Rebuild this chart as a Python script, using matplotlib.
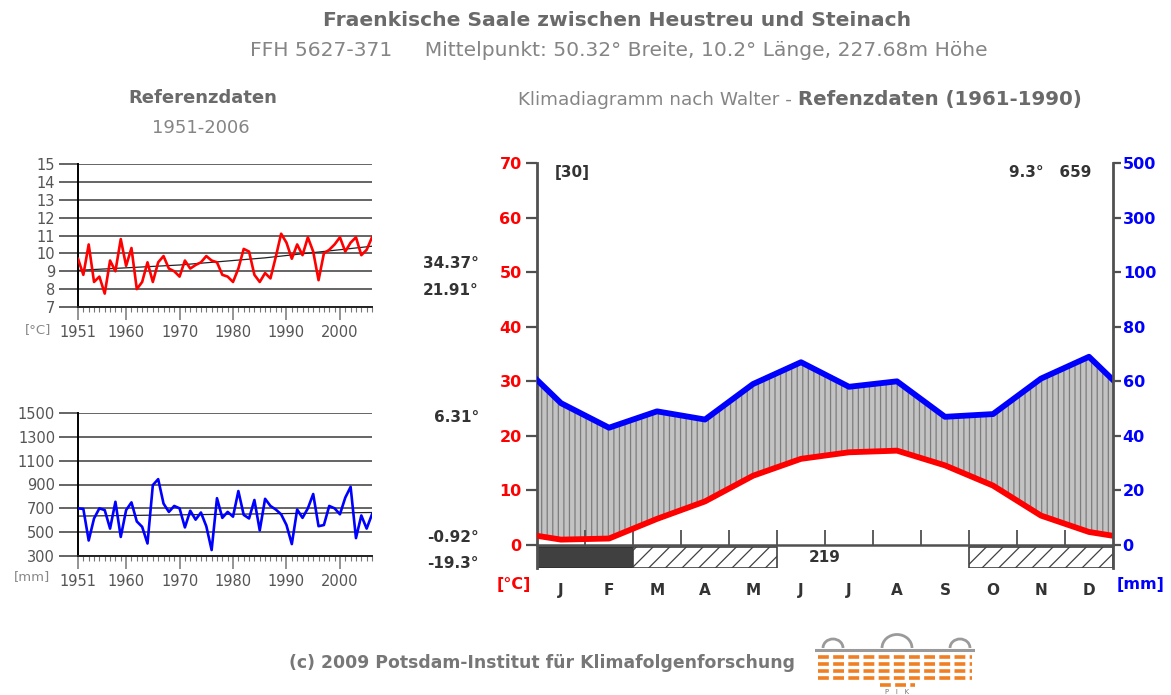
import matplotlib.pyplot as plt
import matplotlib.patches as mpatches
import numpy as np

# --- Klimadiagramm (Walter), Referenzdaten 1961-1990 ---
months = ['J', 'F', 'M', 'A', 'M', 'J', 'J', 'A', 'S', 'O', 'N', 'D']
temp_month = [1.0, 1.2, 4.8, 8.0, 12.7, 15.8, 17.0, 17.3, 14.6, 10.9, 5.4, 2.4]
prec_month = [52, 43, 49, 46, 59, 67, 58, 60, 47, 48, 61, 69]
frost_abs = [1, 1, 0, 0, 0, 0, 0, 0, 0, 0, 0, 0]
frost_prob = [0, 0, 1, 1, 1, 0, 0, 0, 0, 1, 1, 1]
frost_free_days = '219'
n_years_label = '[30]'
annual_label = '9.3°   659'
temp_ticks = [0, 10, 20, 30, 40, 50, 60, 70]
prec_ticklabels = ['0', '20', '40', '60', '80', '100', '300', '500']
side_values = ['34.37°', '21.91°', '6.31°', '-0.92°', '-19.3°']

# --- Jahreswerte 1951-2006 ---
years = list(range(1951, 2007))
temp_year = [9.7, 8.8, 10.5, 8.4, 8.7, 7.75, 9.6, 9.0, 10.8, 9.3,
             10.3, 8.0, 8.4, 9.5, 8.4, 9.5, 9.85, 9.15, 9.0, 8.7,
             9.6, 9.15, 9.35, 9.5, 9.85, 9.6, 9.5, 8.8, 8.7, 8.4,
             9.15, 10.25, 10.1, 8.8, 8.4, 8.9, 8.6, 9.8, 11.1, 10.6,
             9.7, 10.5, 9.9, 10.9, 10.1, 8.5, 10.0, 10.2, 10.5, 10.9,
             10.1, 10.6, 10.9, 9.9, 10.2, 10.9]
prec_year = [700, 695, 430, 615, 700, 685, 530, 755, 460, 685,
             750, 590, 545, 405, 895, 945, 740, 670, 720, 700,
             540, 680, 605, 665, 550, 350, 785, 620, 670, 630,
             845, 645, 615, 770, 515, 780, 720, 690, 650, 560,
             400, 690, 620, 700, 820, 550, 560, 720, 700, 650,
             790, 880, 450, 640, 530, 650]
trend_years = [1951, 1970, 1986, 2006]
temp_trend = [9.05, 9.35, 9.75, 10.4]
prec_trend_years = [1951, 2006]
prec_trend = [635, 665]

W, H = 1171, 695
fig = plt.figure(figsize=(W / 100, H / 100), dpi=100)
fig.patch.set_facecolor('white')


def fx(px):
    return px / W


def fy(py):
    return 1 - py / H


# titles
fig.text(fx(617), fy(20), 'Fraenkische Saale zwischen Heustreu und Steinach',
         ha='center', va='center', fontsize=14.6, fontweight='bold', color='#6a6a6a')
fig.text(fx(619), fy(50), 'FFH 5627-371     Mittelpunkt: 50.32° Breite, 10.2° Länge, 227.68m Höhe',
         ha='center', va='center', fontsize=14.6, color='#858585')
fig.text(fx(203), fy(98), 'Referenzdaten', ha='center', va='center',
         fontsize=13, fontweight='bold', color='#6a6a6a')
fig.text(fx(201), fy(128), '1951-2006', ha='center', va='center',
         fontsize=13, color='#858585')
t1 = fig.text(fx(518), fy(100), 'Klimadiagramm nach Walter - ', ha='left', va='center',
              fontsize=13.2, color='#858585')
fig.canvas.draw()
bb = t1.get_window_extent()
fig.text(bb.x1 / W, fy(100), 'Refenzdaten (1961-1990)', ha='left', va='center',
         fontsize=14.2, fontweight='bold', color='#6a6a6a')

# --- main Walter chart ---
ax = fig.add_axes([fx(537), fy(568), 576 / W, 405 / H])
ax.set_xlim(0, 12)
ax.set_ylim(-4.2, 70)


def scale_prec(p):
    return p / 2 if p <= 100 else 50 + (p - 100) / 20


xc = np.arange(12) + 0.5
x_full = np.concatenate([[0], xc, [12]])
t_edge = (temp_month[0] + temp_month[-1]) / 2
p_edge = (prec_month[0] + prec_month[-1]) / 2
t_full = np.array([t_edge] + temp_month + [t_edge])
p_full = np.array([scale_prec(v) for v in [p_edge] + prec_month + [p_edge]])

plt.rcParams['hatch.linewidth'] = 0.9
ax.fill_between(x_full, t_full, p_full, where=p_full >= t_full, interpolate=True,
                facecolor='#c3c3c3', edgecolor='#7c7c7c', hatch='|||', linewidth=0, zorder=1)
ax.plot(x_full, p_full, color='#0000ff', lw=4.2, solid_joinstyle='round', zorder=3)
ax.plot(x_full, t_full, color='#ff0000', lw=4.2, solid_joinstyle='round', zorder=3)


def runs(flags):
    out = []
    start = None
    for i, f in enumerate(flags + [0]):
        if f and start is None:
            start = i
        if not f and start is not None:
            out.append((start, i - start))
            start = None
    return out


for s, n in runs(frost_abs):
    ax.bar(s, 3.8, width=n, bottom=-4.15, align='edge', color='#404040',
           edgecolor='#303030', linewidth=1.2, zorder=2)
for s, n in runs(frost_prob):
    ax.bar(s, 3.8, width=n, bottom=-4.15, align='edge', color='white',
           edgecolor='#404040', hatch='//', linewidth=1.2, zorder=2)

ax.text(6.0, -2.2, frost_free_days, ha='center', va='center', fontsize=11,
        fontweight='bold', color='#333333')
ax.text(0.37, 68.2, n_years_label, ha='left', va='center', fontsize=11,
        fontweight='bold', color='#333333')
ax.text(11.55, 68.2, annual_label, ha='right', va='center', fontsize=11,
        fontweight='bold', color='#333333')

for sp in ['top', 'right']:
    ax.spines[sp].set_visible(False)
ax.spines['left'].set_color('#505050')
ax.spines['left'].set_linewidth(2)
ax.spines['bottom'].set_position(('data', 0))
ax.spines['bottom'].set_color('#505050')
ax.spines['bottom'].set_linewidth(1.8)
ax.set_yticks(temp_ticks)
ax.set_yticklabels([str(v) for v in temp_ticks])
ax.tick_params(axis='y', direction='out', length=8, width=1.6, color='#505050',
               labelcolor='#ff0000', labelsize=11.5, pad=3)
for lab in ax.get_yticklabels():
    lab.set_fontweight('bold')
ax.set_xticks(np.arange(1, 12))
ax.set_xticklabels([])
ax.set_xticks(xc, minor=True)
ax.set_xticklabels(months, minor=True)
ax.tick_params(axis='x', which='major', direction='in', length=11, width=1.3, color='#505050')
ax.tick_params(axis='x', which='minor', length=0, pad=27, labelsize=11,
               labelcolor='#333333')
for lab in ax.get_xticklabels(minor=True):
    lab.set_fontweight('bold')

ax2 = ax.twinx()
ax2.set_ylim(ax.get_ylim())
for sp in ['top', 'bottom', 'left']:
    ax2.spines[sp].set_visible(False)
ax2.spines['right'].set_color('#505050')
ax2.spines['right'].set_linewidth(2)
ax2.set_yticks(temp_ticks)
ax2.set_yticklabels(prec_ticklabels)
ax2.tick_params(axis='y', direction='out', length=6, width=1.6, color='#505050',
                labelcolor='#0000ff', labelsize=11.5, pad=1)
for lab in ax2.get_yticklabels():
    lab.set_fontweight('bold')

fig.text(fx(531), fy(585), '[°C]', ha='right', va='center', fontsize=11.5,
         fontweight='bold', color='#ff0000')
fig.text(fx(1117), fy(585), '[mm]', ha='left', va='center', fontsize=11.5,
         fontweight='bold', color='#0000ff')
for val, py in zip(side_values, [263, 290, 418, 537, 563]):
    fig.text(fx(479), fy(py), val, ha='right', va='center', fontsize=11,
             fontweight='bold', color='#333333')


# --- small annual charts ---
def small_chart(top, vals, tr_x, tr_y, color, ylim, yticks, unit, unit_x, unit_y):
    a = fig.add_axes([fx(78), fy(top + 143), 294 / W, 143 / H])
    a.set_xlim(1951, 2006)
    a.set_ylim(*ylim)
    a.set_yticks(yticks)
    a.grid(axis='y', color='#3a3a3a', lw=1.1)
    a.set_axisbelow(True)
    a.plot(tr_x, tr_y, color='#222222', lw=0.9, zorder=2)
    a.plot(years, vals, color=color, lw=1.9, zorder=3)
    for sp in ['top', 'right']:
        a.spines[sp].set_visible(False)
    a.spines['left'].set_color('black')
    a.spines['left'].set_linewidth(1.4)
    a.spines['bottom'].set_color('#222222')
    a.spines['bottom'].set_linewidth(1.4)
    a.tick_params(axis='y', length=13.5, width=1.1, color='#3a3a3a', labelcolor='#555555',
                  labelsize=10.5, pad=3)
    a.set_xticks([1951, 1960, 1970, 1980, 1990, 2000])
    a.set_xticks(years, minor=True)
    a.tick_params(axis='x', which='major', length=9, width=1.1, color='#777777',
                  labelcolor='#555555', labelsize=10.5, pad=4)
    a.tick_params(axis='x', which='minor', length=3.5, width=0.8, color='#777777')
    fig.text(fx(unit_x), fy(unit_y), unit, ha='center', va='center', fontsize=9.5,
             color='#888888')
    return a


small_chart(164, temp_year, trend_years, temp_trend, '#ff0000', (7, 15),
            list(range(7, 16)), '[°C]', 38, 330)
small_chart(413, prec_year, prec_trend_years, prec_trend, '#0000ff', (300, 1500),
            list(range(300, 1501, 200)), '[mm]', 32, 577)

# --- footer + PIK logo ---
fig.text(fx(542), fy(663), '(c) 2009 Potsdam-Institut für Klimafolgenforschung',
         ha='center', va='center', fontsize=12.4, fontweight='bold', color='#777777')

lg = fig.add_axes([fx(815), fy(695), 160 / W, 73 / H])
lg.set_xlim(815, 975)
lg.set_ylim(695, 622)
lg.axis('off')
lg.plot([815, 975], [650, 650], color='#9a9a9a', lw=2.2)
for cx, r in [(833, 10), (897, 15), (960, 10)]:
    lg.add_patch(mpatches.Arc((cx, 648), 2 * r, 2 * r * 0.9, theta1=180, theta2=360,
                              color='#9a9a9a', lw=2))
for yy in [657, 664, 671, 678]:
    lg.plot([818, 972], [yy, yy], color='#f07f22', lw=2.6, dashes=(3, 1.2))
for yy in [685]:
    lg.plot([880, 915], [yy, yy], color='#f07f22', lw=2.6, dashes=(3, 1.2))
lg.text(897, 692, 'P   I   K', ha='center', va='center', fontsize=5, color='#777777')

fig.savefig('out.png', dpi=100)
